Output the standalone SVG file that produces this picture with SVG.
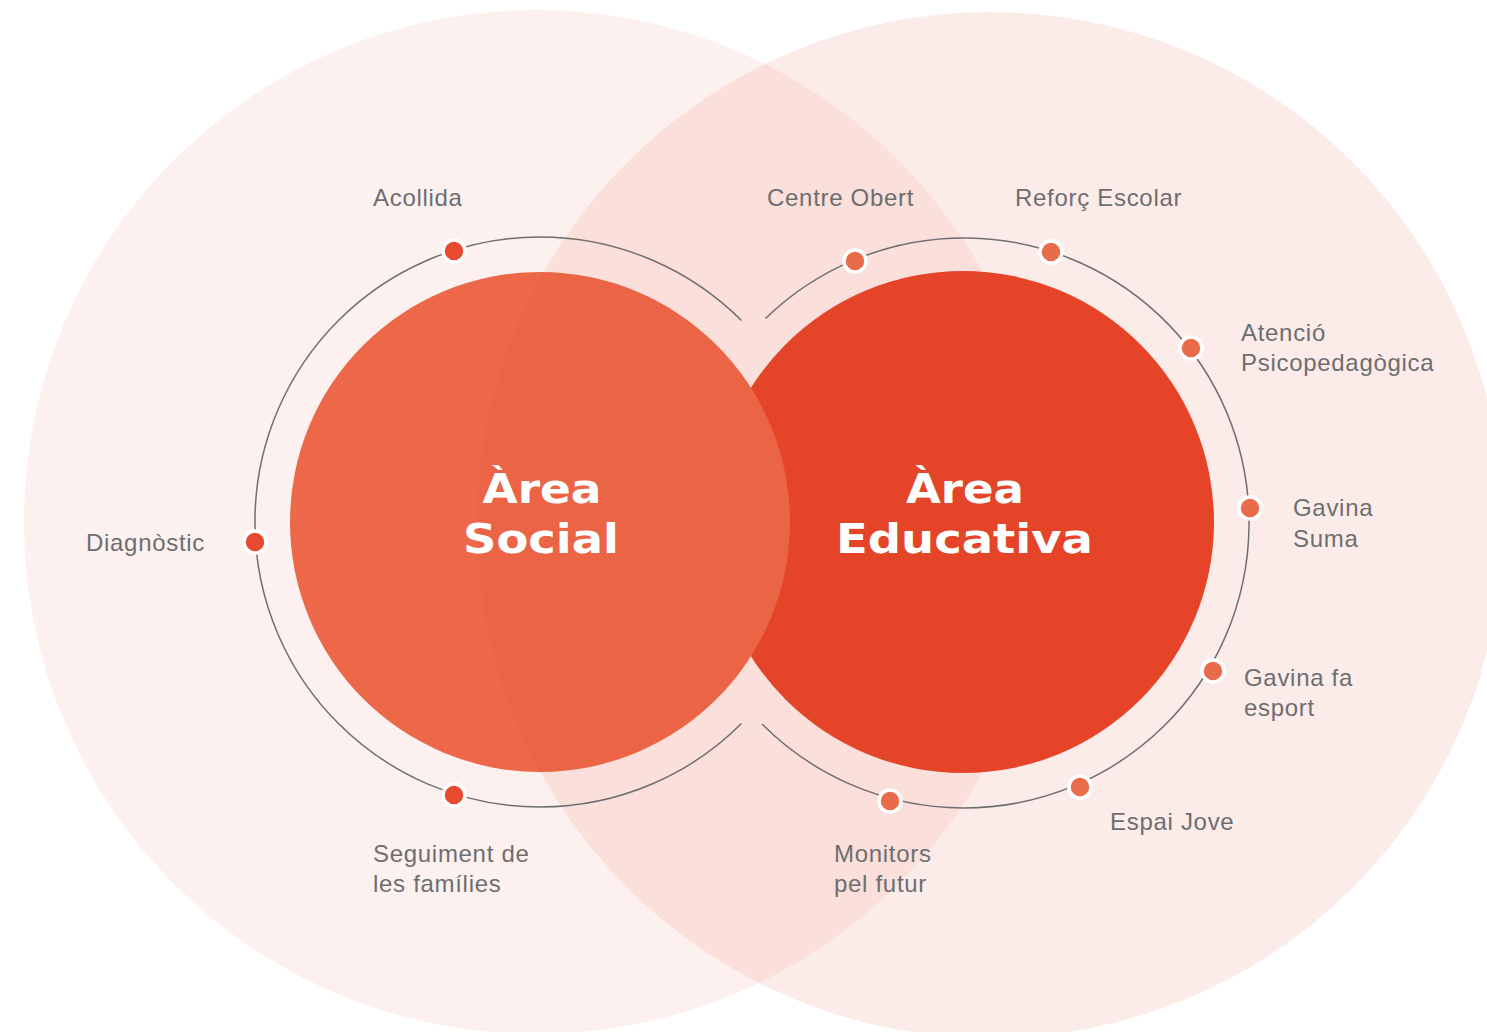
<svg xmlns="http://www.w3.org/2000/svg" width="1487" height="1032" viewBox="0 0 1487 1032">
  <style>
    .lbl { font-family: "Liberation Sans", Arial, sans-serif; font-size: 24px; fill: #6d6e70; letter-spacing: 0.7px; }
    .ttl { font-family: "DejaVu Sans", "Liberation Sans", sans-serif; font-weight: bold; font-size: 41px; fill: #ffffff; text-anchor: middle; }
    .orbit { fill: none; stroke: #6f6f71; stroke-width: 1.5; }
    .dotS { fill: #e84a2f; stroke: #ffffff; stroke-width: 3.5; }
    .dotE { fill: #ea6b4a; stroke: #ffffff; stroke-width: 3.5; }
    .halo { fill: #e54327; }
  </style>
  <rect width="1487" height="1032" fill="#ffffff"/>
  <g id="area-educativa-disc">
    <circle cx="963" cy="522" r="251" fill="#e6452a"/>
  </g>
  <g id="area-social-disc">
    <circle cx="540" cy="522" r="250" fill="#ed6c4c"/>
  </g>
  <g id="background">
    <circle class="halo" cx="536" cy="522" r="512" fill-opacity="0.075"/>
    <circle class="halo" cx="990" cy="525" r="513" fill-opacity="0.1"/>
  </g>
  <g id="connectors">
    <path class="orbit" d="M 741.5 320.5 A 285 285 0 1 0 741.5 723.5"/>
    <path class="orbit" d="M 765.5 318.5 A 285 285 0 1 1 762 724"/>
  </g>
  <g id="area-educativa">
    <text class="ttl" x="965" y="503" textLength="118" lengthAdjust="spacingAndGlyphs">Àrea</text>
    <text class="ttl" x="964.5" y="553" textLength="257" lengthAdjust="spacingAndGlyphs">Educativa</text>
  </g>
  <g id="area-social">
    <text class="ttl" x="542" y="503" textLength="119" lengthAdjust="spacingAndGlyphs">Àrea</text>
    <text class="ttl" x="541" y="553" textLength="156" lengthAdjust="spacingAndGlyphs">Social</text>
  </g>
  <g id="acollida">
    <circle class="dotS" cx="454" cy="251" r="11"/>
    <text class="lbl" x="373" y="206">Acollida</text>
  </g>
  <g id="diagnostic">
    <circle class="dotS" cx="255" cy="542" r="11"/>
    <text class="lbl" x="86" y="551">Diagnòstic</text>
  </g>
  <g id="seguiment">
    <circle class="dotS" cx="454" cy="795" r="11"/>
    <text class="lbl" x="373" y="862">Seguiment de</text>
    <text class="lbl" x="373" y="892">les famílies</text>
  </g>
  <g id="centre-obert">
    <circle class="dotE" cx="855" cy="261" r="11"/>
    <text class="lbl" x="767" y="206">Centre Obert</text>
  </g>
  <g id="reforc-escolar">
    <circle class="dotE" cx="1051" cy="252" r="11"/>
    <text class="lbl" x="1015" y="206">Reforç Escolar</text>
  </g>
  <g id="atencio">
    <circle class="dotE" cx="1191" cy="348" r="11"/>
    <text class="lbl" x="1241" y="341">Atenció</text>
    <text class="lbl" x="1241" y="371">Psicopedagògica</text>
  </g>
  <g id="gavina-suma">
    <circle class="dotE" cx="1250" cy="508" r="11"/>
    <text class="lbl" x="1293" y="516">Gavina</text>
    <text class="lbl" x="1293" y="547">Suma</text>
  </g>
  <g id="gavina-esport">
    <circle class="dotE" cx="1213" cy="671" r="11"/>
    <text class="lbl" x="1244" y="686">Gavina fa</text>
    <text class="lbl" x="1244" y="716">esport</text>
  </g>
  <g id="espai-jove">
    <circle class="dotE" cx="1080" cy="787" r="11"/>
    <text class="lbl" x="1110" y="830">Espai Jove</text>
  </g>
  <g id="monitors">
    <circle class="dotE" cx="890" cy="801" r="11"/>
    <text class="lbl" x="834" y="862">Monitors</text>
    <text class="lbl" x="834" y="892">pel futur</text>
  </g>
</svg>
